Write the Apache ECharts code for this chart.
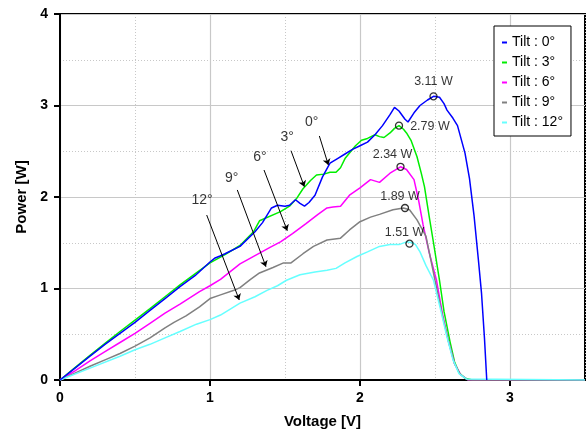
<!DOCTYPE html>
<html><head><meta charset="utf-8">
<script src="https://cdn.jsdelivr.net/npm/echarts@6/dist/echarts.min.js"></script>
<style>html,body{margin:0;padding:0;background:#fff}#c{width:588px;height:435px}</style>
</head><body><div id="c"></div>
<script>
const seriesNames = ['Tilt : 0°', 'Tilt : 3°', 'Tilt : 6°', 'Tilt : 9°', 'Tilt : 12°'];
const xTicks = [0, 1, 2, 3];
const yTicks = [0, 1, 2, 3, 4];

const tilt0 = [[0,0],[0.1,0.13],[0.2,0.26],[0.3,0.39],[0.4,0.51],[0.5,0.63],[0.6,0.76],[0.7,0.89],[0.8,1.02],[0.9,1.14],[1.0,1.29],[1.03,1.33],[1.067,1.355],[1.1,1.38],[1.2,1.46],[1.3,1.62],[1.35,1.72],[1.41,1.88],[1.45,1.91],[1.5,1.90],[1.53,1.91],[1.57,1.97],[1.6,1.93],[1.63,1.90],[1.66,1.94],[1.7,2.02],[1.75,2.22],[1.8,2.37],[1.85,2.42],[1.9,2.47],[1.95,2.52],[2.0,2.56],[2.05,2.60],[2.1,2.68],[2.15,2.78],[2.2,2.90],[2.23,2.98],[2.26,2.94],[2.3,2.85],[2.32,2.82],[2.36,2.92],[2.4,3.00],[2.45,3.06],[2.49,3.10],[2.53,3.09],[2.56,3.02],[2.58,2.95],[2.62,2.86],[2.65,2.78],[2.67,2.66],[2.7,2.48],[2.73,2.2],[2.76,1.8],[2.79,1.3],[2.81,0.95],[2.83,0.45],[2.845,0]];
const tilt3 = [[0,0],[0.1,0.135],[0.2,0.27],[0.3,0.40],[0.4,0.53],[0.5,0.655],[0.6,0.78],[0.7,0.91],[0.8,1.04],[0.9,1.16],[1.0,1.28],[1.1,1.37],[1.2,1.47],[1.29,1.62],[1.33,1.74],[1.47,1.84],[1.53,1.90],[1.58,1.99],[1.62,2.09],[1.67,2.18],[1.71,2.24],[1.76,2.25],[1.8,2.27],[1.84,2.27],[1.87,2.32],[1.9,2.42],[1.93,2.48],[1.97,2.56],[2.01,2.62],[2.05,2.64],[2.1,2.68],[2.13,2.66],[2.16,2.65],[2.2,2.70],[2.23,2.75],[2.26,2.78],[2.29,2.74],[2.31,2.70],[2.34,2.62],[2.38,2.44],[2.41,2.25],[2.43,2.11],[2.46,1.8],[2.49,1.5],[2.53,1.09],[2.56,0.75],[2.6,0.42],[2.63,0.2],[2.66,0.08],[2.7,0.02],[2.75,0],[3.5,0]];
const tilt6 = [[0,0],[0.1,0.10],[0.2,0.21],[0.3,0.31],[0.4,0.41],[0.5,0.51],[0.6,0.62],[0.7,0.73],[0.8,0.83],[0.93,0.965],[1.0,1.03],[1.07,1.10],[1.2,1.27],[1.3,1.36],[1.4,1.45],[1.47,1.51],[1.55,1.60],[1.64,1.71],[1.72,1.81],[1.78,1.88],[1.82,1.89],[1.87,1.90],[1.93,2.02],[2.0,2.10],[2.07,2.19],[2.13,2.16],[2.2,2.26],[2.27,2.33],[2.31,2.30],[2.36,2.19],[2.39,1.97],[2.42,1.7],[2.46,1.4],[2.51,1.09],[2.55,0.72],[2.59,0.42],[2.63,0.18],[2.67,0.06],[2.72,0],[3.5,0]];
const tilt9 = [[0,0],[0.1,0.075],[0.2,0.15],[0.3,0.22],[0.4,0.29],[0.5,0.37],[0.6,0.46],[0.7,0.57],[0.76,0.63],[0.84,0.70],[0.93,0.80],[1.0,0.89],[1.07,0.93],[1.16,0.98],[1.2,1.01],[1.27,1.10],[1.33,1.17],[1.42,1.23],[1.49,1.28],[1.54,1.28],[1.62,1.38],[1.69,1.46],[1.78,1.53],[1.87,1.55],[1.93,1.64],[2.0,1.73],[2.07,1.78],[2.13,1.81],[2.22,1.86],[2.29,1.88],[2.33,1.86],[2.38,1.75],[2.44,1.57],[2.5,1.09],[2.55,0.7],[2.59,0.42],[2.63,0.18],[2.67,0.06],[2.72,0],[3.5,0]];
const tilt12 = [[0,0],[0.2,0.13],[0.4,0.26],[0.5,0.33],[0.6,0.39],[0.7,0.46],[0.8,0.53],[0.91,0.61],[1.0,0.66],[1.07,0.71],[1.2,0.84],[1.3,0.91],[1.38,0.98],[1.45,1.03],[1.51,1.09],[1.6,1.15],[1.7,1.18],[1.78,1.20],[1.84,1.22],[1.9,1.28],[1.98,1.35],[2.05,1.40],[2.13,1.46],[2.2,1.48],[2.26,1.48],[2.31,1.51],[2.35,1.50],[2.37,1.48],[2.4,1.40],[2.44,1.25],[2.49,1.09],[2.54,0.75],[2.58,0.47],[2.62,0.22],[2.66,0.07],[2.71,0.01],[3.5,0]];

const peakV = [2.49, 2.26, 2.27, 2.30, 2.33];
const peakP = [3.10, 2.78, 2.33, 1.88, 1.49];
const peakLabels = ['3.11 W', '2.79 W', '2.34 W', '1.89 W', '1.51 W'];

const arrowLabels = ['0°', '3°', '6°', '9°', '12°'];
const arrowFrom = [[1.729,2.667],[1.54,2.506],[1.36,2.295],[1.182,2.077],[0.978,1.803]];
const arrowTo = [[1.789,2.35],[1.629,2.113],[1.515,1.632],[1.373,1.238],[1.195,0.874]];
const arrowTextAt = [[1.678,2.823],[1.515,2.652],[1.333,2.44],[1.145,2.203],[0.947,1.967]];

const colors = ['#0000ff', '#00ee00', '#ff00ff', '#808080', '#66ffff'];
const allData = [tilt0, tilt3, tilt6, tilt9, tilt12];
const FONT = 'Liberation Sans, Arial, sans-serif';

const peakLabelCfg = [
  {position:'top', offset:[0,1]},
  {position:'right', offset:[2,1]},
  {position:'top', offset:[-8,3]},
  {position:'top', offset:[-5,4]},
  {position:'top', offset:[-5,5]}
];

const series = allData.map((d, i) => ({
  name: seriesNames[i], type: 'line', data: d, showSymbol: false, symbol: 'none',
  lineStyle: {color: colors[i], width: 1.5}, itemStyle: {color: colors[i]},
  z: i === 0 ? 4 : 3, silent: true
}));

series.push({
  type: 'scatter', symbol: 'circle', symbolSize: 7, z: 6, silent: true,
  itemStyle: {color: 'rgba(0,0,0,0)', borderColor: '#000', borderWidth: 1.3},
  data: peakV.map((v, i) => ({
    value: [v, peakP[i]],
    label: Object.assign({show: true, formatter: peakLabels[i], color: '#000', fontSize: 12.5, fontFamily: FONT}, peakLabelCfg[i])
  }))
});

series.push({
  type: 'lines', coordinateSystem: 'cartesian2d', z: 6, silent: true,
  symbol: ['none', 'arrow'], symbolSize: [0, 6],
  lineStyle: {color: '#000', width: 1, opacity: 1},
  data: arrowFrom.map((f, i) => ({coords: [f, arrowTo[i]]}))
});

series.push({
  type: 'scatter', symbolSize: 1, z: 6, silent: true,
  itemStyle: {color: 'rgba(0,0,0,0)'},
  data: arrowTextAt.map((p, i) => ({
    value: p,
    label: {show: true, position: 'inside', formatter: arrowLabels[i], color: '#000', fontSize: 14, fontFamily: FONT}
  }))
});

const chart = echarts.init(document.getElementById('c'), null, {renderer: 'canvas'});
chart.setOption({
  animation: false,
  backgroundColor: '#fff',
  grid: {left: 60, right: 3, top: 14, bottom: 55, show: true, borderColor: '#000', borderWidth: 2, backgroundColor: 'rgba(0,0,0,0)'},
  legend: {
    data: seriesNames, orient: 'vertical', left: 494, top: 26,
    backgroundColor: '#fff', borderColor: '#000', borderWidth: 1, borderRadius: 0,
    padding: [9, 8, 6, 8], itemGap: 5, itemWidth: 5, itemHeight: 2, icon: 'rect',
    textStyle: {color: '#000', fontSize: 14, fontFamily: FONT, lineHeight: 15},
    selectedMode: false
  },
  xAxis: [
    {
      type: 'value', min: 0, max: 3.5, interval: 1, position: 'bottom',
      name: 'Voltage [V]', nameLocation: 'middle', nameGap: 34,
      nameTextStyle: {color: '#000', fontSize: 15, fontWeight: 'bold', fontFamily: FONT},
      axisLine: {show: true, onZero: false, lineStyle: {color: '#000', width: 2}},
      axisTick: {show: true, length: 6, inside: false, customValues: xTicks, lineStyle: {color: '#000', width: 2}},
      axisLabel: {show: true, customValues: xTicks, margin: 11, color: '#000', fontSize: 14, fontWeight: 'bold', fontFamily: FONT,
        formatter: v => Number.isInteger(v) ? String(v) : ''},
      splitLine: {show: true, lineStyle: {color: '#c8c8c8', width: 1.2}}
    },
    {
      type: 'value', min: 0, max: 3.5, interval: 0.5, position: 'bottom',
      axisLine: {show: false}, axisTick: {show: false}, axisLabel: {show: false},
      splitLine: {show: true, lineStyle: {color: '#c8c8c8', width: 1, type: [1, 2]}}
    }
  ],
  yAxis: {
    type: 'value', min: 0, max: 4, interval: 1,
    name: 'Power [W]', nameLocation: 'middle', nameGap: 31,
    nameTextStyle: {color: '#000', fontSize: 15, fontWeight: 'bold', fontFamily: FONT},
    axisLine: {show: true, onZero: false, lineStyle: {color: '#000', width: 2}},
    axisTick: {show: true, length: 6, lineStyle: {color: '#000', width: 2}},
    axisLabel: {margin: 12, color: '#000', fontSize: 14, fontWeight: 'bold', fontFamily: FONT},
    splitLine: {show: true, lineStyle: {color: '#c8c8c8', width: 1.2}},
    minorTick: {show: false, splitNumber: 2},
    minorSplitLine: {show: true, lineStyle: {color: '#c8c8c8', width: 1, type: [1, 2]}}
  },
  series: series
});
</script></body></html>
